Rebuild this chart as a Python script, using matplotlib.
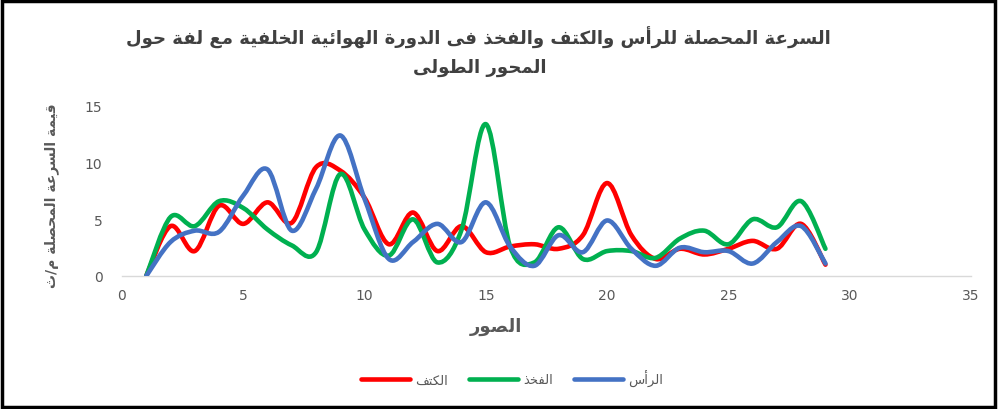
import matplotlib
matplotlib.use("Agg")
import matplotlib.pyplot as plt
from matplotlib.path import Path
from matplotlib.patches import PathPatch, Rectangle
from matplotlib.lines import Line2D

# ---------------- data ----------------
frames = list(range(1, 30))
shoulder = [0, 4.4, 2.2, 6.2, 4.6, 6.5, 4.7, 9.6, 9.3, 6.9, 2.8, 5.6, 2.2, 4.4, 2.1,
            2.6, 2.8, 2.4, 3.6, 8.2, 3.6, 1.5, 2.4, 1.9, 2.4, 3.1, 2.4, 4.6, 1.0]
thigh = [0, 5.2, 4.4, 6.6, 6.0, 4.1, 2.7, 2.1, 9.0, 4.1, 1.8, 5.0, 1.2, 4.1, 13.4,
         2.6, 1.2, 4.3, 1.5, 2.2, 2.2, 1.6, 3.3, 4.0, 2.8, 5.0, 4.3, 6.6, 2.4]
head = [0, 3.0, 4.0, 3.9, 7.1, 9.4, 4.0, 7.7, 12.4, 6.8, 1.5, 3.0, 4.6, 3.0, 6.5,
        2.6, 0.9, 3.6, 2.1, 4.9, 2.4, 0.9, 2.5, 2.1, 2.2, 1.1, 3.0, 4.4, 1.1]

series_names = ["الكتف", "الفخذ", "الرأس"]
series_values = [shoulder, thigh, head]
series_colors = ["#FF0000", "#00B050", "#4472C4"]

title_line1 = "السرعة المحصلة للرأس والكتف والفخذ فى الدورة الهوائية الخلفية مع لفة حول"
title_line2 = "المحور الطولى"
xlabel_text = "الصور"
ylabel_text = "قيمة السرعة المحصلة م/ث"
xticks = [0, 5, 10, 15, 20, 25, 30, 35]
yticks = [0, 5, 10, 15]

# ---------------- Arabic shaping ----------------
FORMS = {  # isolated, final, initial, medial
    '\u0621': ('\uFE80', None, None, None),
    '\u0622': ('\uFE81', '\uFE82', None, None),
    '\u0623': ('\uFE83', '\uFE84', None, None),
    '\u0624': ('\uFE85', '\uFE86', None, None),
    '\u0625': ('\uFE87', '\uFE88', None, None),
    '\u0626': ('\uFE89', '\uFE8A', '\uFE8B', '\uFE8C'),
    '\u0627': ('\uFE8D', '\uFE8E', None, None),
    '\u0628': ('\uFE8F', '\uFE90', '\uFE91', '\uFE92'),
    '\u0629': ('\uFE93', '\uFE94', None, None),
    '\u062A': ('\uFE95', '\uFE96', '\uFE97', '\uFE98'),
    '\u062B': ('\uFE99', '\uFE9A', '\uFE9B', '\uFE9C'),
    '\u062C': ('\uFE9D', '\uFE9E', '\uFE9F', '\uFEA0'),
    '\u062D': ('\uFEA1', '\uFEA2', '\uFEA3', '\uFEA4'),
    '\u062E': ('\uFEA5', '\uFEA6', '\uFEA7', '\uFEA8'),
    '\u062F': ('\uFEA9', '\uFEAA', None, None),
    '\u0630': ('\uFEAB', '\uFEAC', None, None),
    '\u0631': ('\uFEAD', '\uFEAE', None, None),
    '\u0632': ('\uFEAF', '\uFEB0', None, None),
    '\u0633': ('\uFEB1', '\uFEB2', '\uFEB3', '\uFEB4'),
    '\u0634': ('\uFEB5', '\uFEB6', '\uFEB7', '\uFEB8'),
    '\u0635': ('\uFEB9', '\uFEBA', '\uFEBB', '\uFEBC'),
    '\u0636': ('\uFEBD', '\uFEBE', '\uFEBF', '\uFEC0'),
    '\u0637': ('\uFEC1', '\uFEC2', '\uFEC3', '\uFEC4'),
    '\u0638': ('\uFEC5', '\uFEC6', '\uFEC7', '\uFEC8'),
    '\u0639': ('\uFEC9', '\uFECA', '\uFECB', '\uFECC'),
    '\u063A': ('\uFECD', '\uFECE', '\uFECF', '\uFED0'),
    '\u0641': ('\uFED1', '\uFED2', '\uFED3', '\uFED4'),
    '\u0642': ('\uFED5', '\uFED6', '\uFED7', '\uFED8'),
    '\u0643': ('\uFED9', '\uFEDA', '\uFEDB', '\uFEDC'),
    '\u0644': ('\uFEDD', '\uFEDE', '\uFEDF', '\uFEE0'),
    '\u0645': ('\uFEE1', '\uFEE2', '\uFEE3', '\uFEE4'),
    '\u0646': ('\uFEE5', '\uFEE6', '\uFEE7', '\uFEE8'),
    '\u0647': ('\uFEE9', '\uFEEA', '\uFEEB', '\uFEEC'),
    '\u0648': ('\uFEED', '\uFEEE', None, None),
    '\u0649': ('\uFEEF', '\uFEF0', None, None),
    '\u064A': ('\uFEF1', '\uFEF2', '\uFEF3', '\uFEF4'),
}
LAMALEF = {'\u0622': ('\uFEF5', '\uFEF6'), '\u0623': ('\uFEF7', '\uFEF8'),
           '\u0625': ('\uFEF9', '\uFEFA'), '\u0627': ('\uFEFB', '\uFEFC')}


def joins_next(ch):
    f = FORMS.get(ch)
    return f is not None and f[2] is not None


def joins_prev(ch):
    f = FORMS.get(ch)
    return f is not None and f[1] is not None


def shape(text):
    out = []
    chars = list(text)
    i = 0
    n = len(chars)
    while i < n:
        ch = chars[i]
        prev = chars[i - 1] if i > 0 else None
        linked_prev = prev is not None and joins_next(prev) and joins_prev(ch)
        if ch == '\u0644' and i + 1 < n and chars[i + 1] in LAMALEF:
            iso, fin = LAMALEF[chars[i + 1]]
            out.append(fin if linked_prev else iso)
            i += 2
            continue
        if ch not in FORMS:
            out.append(ch)
            i += 1
            continue
        nxt = chars[i + 1] if i + 1 < n else None
        linked_next = nxt is not None and joins_next(ch) and joins_prev(nxt)
        iso, fin, ini, med = FORMS[ch]
        if linked_prev and linked_next:
            out.append(med)
        elif linked_prev:
            out.append(fin)
        elif linked_next:
            out.append(ini)
        else:
            out.append(iso)
        i += 1
    return ''.join(out)[::-1]


# ---------------- figure ----------------
plt.rcParams['font.family'] = ['DejaVu Sans']
fig = plt.figure(figsize=(9.99, 4.10), dpi=100)
ax = fig.add_axes([122 / 999, 1 - 277 / 410, (971 - 122) / 999, (277 - 107) / 410])


def smooth_path(xs, ys):
    pts = list(zip(xs, ys))
    verts = [pts[0]]
    codes = [Path.MOVETO]
    m = len(pts)
    for i in range(m - 1):
        p0 = pts[i - 1] if i > 0 else pts[i]
        p1 = pts[i]
        p2 = pts[i + 1]
        p3 = pts[i + 2] if i + 2 < m else pts[i + 1]
        c1 = (p1[0] + (p2[0] - p0[0]) / 6, p1[1] + (p2[1] - p0[1]) / 6)
        c2 = (p2[0] - (p3[0] - p1[0]) / 6, p2[1] - (p3[1] - p1[1]) / 6)
        verts += [c1, c2, p2]
        codes += [Path.CURVE4] * 3
    return Path(verts, codes)


for z, (vals, col) in enumerate(zip(series_values, series_colors)):
    patch = PathPatch(smooth_path(frames, vals), facecolor='none', edgecolor=col,
                      linewidth=3.3, capstyle='round', joinstyle='round', zorder=3 + z)
    ax.add_patch(patch)

ax.set_xlim(0, 35)
ax.set_ylim(0, 15)
ax.set_xticks(xticks)
ax.set_yticks(yticks)
for s in ['top', 'right', 'left']:
    ax.spines[s].set_visible(False)
ax.spines['bottom'].set_color('#D9D9D9')
ax.spines['bottom'].set_linewidth(1.0)
ax.tick_params(axis='both', length=0, colors='#595959', labelsize=10)
ax.tick_params(axis='x', pad=9)
ax.tick_params(axis='y', pad=14)

tcol = '#404040'
fig.text(478 / 999, 1 - 38 / 410, shape(title_line1), ha='center', va='center',
         fontsize=13.1, fontweight='bold', color=tcol)
fig.text(480 / 999, 1 - 68 / 410, shape(title_line2), ha='center', va='center',
         fontsize=13.1, fontweight='bold', color=tcol)
fig.text(496 / 999, 1 - 327 / 410, shape(xlabel_text), ha='center', va='center',
         fontsize=13, fontweight='bold', color='#595959')
fig.text(52 / 999, 1 - 196 / 410, shape(ylabel_text), ha='center', va='center',
         rotation=90, fontsize=10, fontweight='bold', color='#595959')

handles = [Line2D([0], [0], color=c, linewidth=3.3, solid_capstyle='round')
           for c in series_colors]
fig.legend(handles, [shape(s) for s in series_names], loc='center',
           bbox_to_anchor=(512 / 999, 1 - 379 / 410), ncol=3, frameon=False,
           fontsize=9.5, labelcolor='#595959', handlelength=3.7,
           handletextpad=0.4, columnspacing=1.6)

fig.add_artist(Rectangle((0.002, 0.004), 0.994, 0.99, transform=fig.transFigure,
                         fill=False, edgecolor='black', linewidth=2.5))

fig.savefig('out.png', dpi=100)
